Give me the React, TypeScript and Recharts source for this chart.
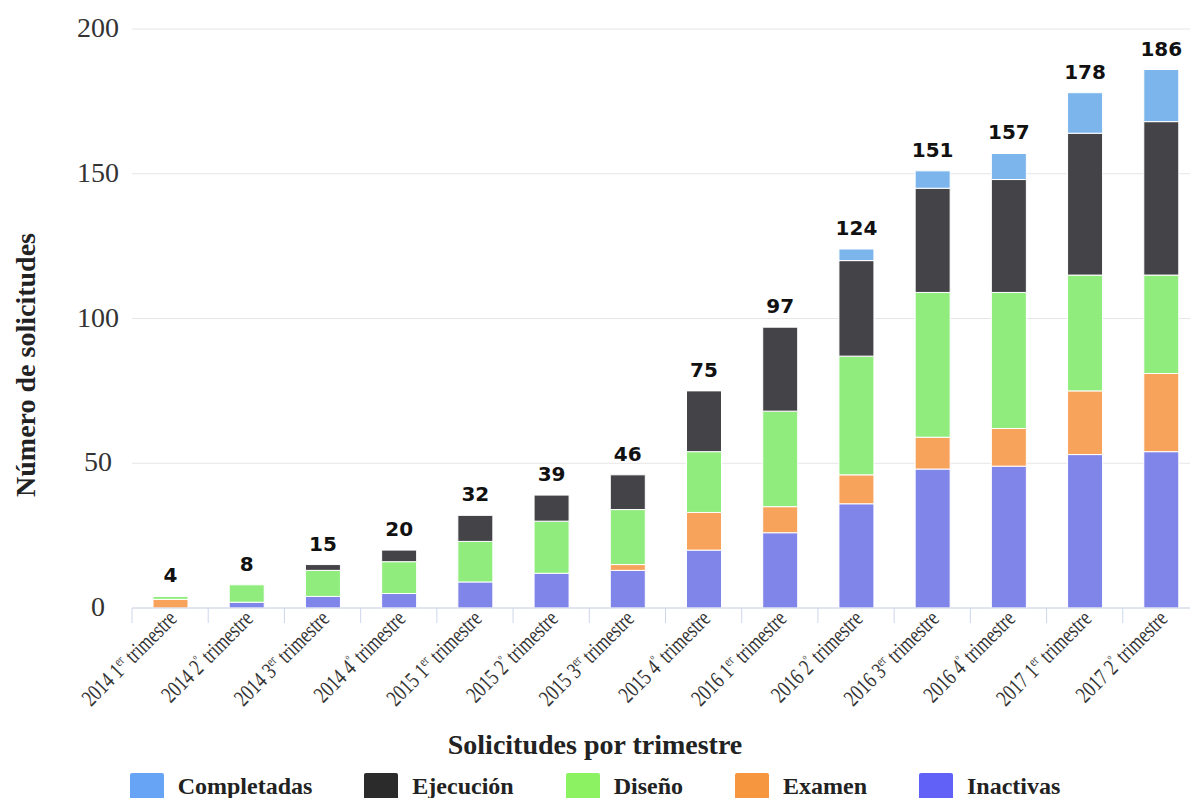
import { BarChart, Bar, XAxis, YAxis, CartesianGrid, Legend, LabelList } from "recharts";

const categories = [
  "2014 1er trimestre",
  "2014 2º trimestre",
  "2014 3er trimestre",
  "2014 4º trimestre",
  "2015 1er trimestre",
  "2015 2º trimestre",
  "2015 3er trimestre",
  "2015 4º trimestre",
  "2016 1er trimestre",
  "2016 2º trimestre",
  "2016 3er trimestre",
  "2016 4º trimestre",
  "2017 1er trimestre",
  "2017 2º trimestre",
];

const inactivas = [0, 2, 4, 5, 9, 12, 13, 20, 26, 36, 48, 49, 53, 54];
const examen = [3, 0, 0, 0, 0, 0, 2, 13, 9, 10, 11, 13, 22, 27];
const diseno = [1, 6, 9, 11, 14, 18, 19, 21, 33, 41, 50, 47, 40, 34];
const ejecucion = [0, 0, 2, 4, 9, 9, 12, 21, 29, 33, 36, 39, 49, 53];
const completadas = [0, 0, 0, 0, 0, 0, 0, 0, 0, 4, 6, 9, 14, 18];
const totals = [4, 8, 15, 20, 32, 39, 46, 75, 97, 124, 151, 157, 178, 186];

const yTicks = [0, 50, 100, 150, 200];

// legend order (top of stack first)
const legendItems = [
  { name: "Completadas", color: "#68a4f6" },
  { name: "Ejecución", color: "#2b2b2b" },
  { name: "Diseño", color: "#8df262" },
  { name: "Examen", color: "#f6963f" },
  { name: "Inactivas", color: "#6161f7" },
];

const data = categories.map((c, i) => ({
  name: c,
  Inactivas: inactivas[i],
  Examen: examen[i],
  Diseño: diseno[i],
  Ejecución: ejecucion[i],
  Completadas: completadas[i],
  total: totals[i],
}));

const CHART_W = 1210;
const CHART_H = 798;
const Y_AXIS_W = 132;
const MARGIN_R = 11;
const BAND = (CHART_W - Y_AXIS_W - MARGIN_R) / categories.length;

const serif = "'Liberation Serif', 'Times New Roman', serif";

function XTick({ x, y, payload }: any) {
  const m = String(payload.value).match(/^(\d{4}) (\d)(er|º) (.*)$/);
  const left = x - BAND / 2;
  return (
    <g>
      <line x1={left} x2={left} y1={y} y2={y + 15} stroke="#ccd6eb" />
      <text
        transform={`translate(${x + 8},${y + 12}) rotate(-45) scale(0.8,1.05)`}
        textAnchor="end"
        fontFamily={serif}
        fontSize={22}
        fill="#333"
      >
        {m ? (
          <>
            {m[1]} {m[2]}
            <tspan dy={-8} fontSize={13}>{m[3]}</tspan>
            <tspan dy={8}> {m[4]}</tspan>
          </>
        ) : (
          payload.value
        )}
      </text>
    </g>
  );
}

function YTick({ y, payload }: any) {
  return (
    <text x={98} y={y + 8} textAnchor="middle" fontFamily={serif} fontSize={28} fill="#333">
      {payload.value}
    </text>
  );
}

function StackLabel({ x, y, width, value }: any) {
  return (
    <text
      x={x + width / 2}
      y={y - 14}
      textAnchor="middle"
      fontFamily="'DejaVu Sans', sans-serif"
      fontWeight="bold"
      fontSize={20}
      fill="#111"
    >
      {value}
    </text>
  );
}

function YTitle() {
  return (
    <text
      transform="translate(35,365) rotate(-90)"
      textAnchor="middle"
      fontFamily={serif}
      fontWeight="bold"
      fontSize={28}
      fill="#222"
    >
      Número de solicitudes
    </text>
  );
}

function LegendContent() {
  return (
    <div style={{ width: 1190, height: 80, fontFamily: serif, fontWeight: "bold", color: "#222" }}>
      <div style={{ textAlign: "center", fontSize: 28, lineHeight: "31px", paddingTop: 11, height: 29 }}>
        Solicitudes por trimestre
      </div>
      <div style={{ display: "flex", justifyContent: "center", gap: 52, marginTop: 15 }}>
        {legendItems.map(it => (
          <div key={it.name} style={{ display: "flex", alignItems: "flex-start", fontSize: 24, lineHeight: "26px" }}>
            <span style={{ display: "inline-block", width: 34, height: 30, marginTop: 0, background: it.color, borderRadius: 2, marginRight: 14 }} />
            <span>{it.name}</span>
          </div>
        ))}
      </div>
    </div>
  );
}

export default function App() {
  return (
    <div style={{ position: "absolute", left: 0, top: 0, width: 1190, height: 798, overflow: "hidden", background: "#fff" }}>
      <BarChart width={CHART_W} height={CHART_H} data={data} margin={{ top: 29, right: MARGIN_R, left: 0, bottom: 0 }} barSize={35}>
        <CartesianGrid vertical={false} stroke="#e6e6e6" />
        <XAxis
          dataKey="name"
          interval={0}
          height={110}
          tickSize={0}
          tickMargin={0}
          tickLine={false}
          axisLine={{ stroke: "#ccd6eb" }}
          tick={<XTick />}
        />
        <XAxis xAxisId="tot" dataKey="name" hide />
        <YAxis
          domain={[0, 200]}
          ticks={yTicks}
          width={Y_AXIS_W}
          axisLine={false}
          tickLine={false}
          tick={<YTick />}
          label={<YTitle />}
        />
        <Legend verticalAlign="bottom" wrapperStyle={{ left: 0, bottom: 0, width: 1190 }} content={<LegendContent />} />
        <Bar dataKey="Inactivas" stackId="a" fill="#8085e9" stroke="#fff" strokeWidth={1} isAnimationActive={false} />
        <Bar dataKey="Examen" stackId="a" fill="#f7a35c" stroke="#fff" strokeWidth={1} isAnimationActive={false} />
        <Bar dataKey="Diseño" stackId="a" fill="#90ed7d" stroke="#fff" strokeWidth={1} isAnimationActive={false} />
        <Bar dataKey="Ejecución" stackId="a" fill="#434348" stroke="#fff" strokeWidth={1} isAnimationActive={false} />
        <Bar dataKey="Completadas" stackId="a" fill="#7cb5ec" stroke="#fff" strokeWidth={1} isAnimationActive={false} />
        <Bar dataKey="total" xAxisId="tot" fill="transparent" legendType="none" isAnimationActive={false}>
          <LabelList dataKey="total" content={<StackLabel />} />
        </Bar>
      </BarChart>
    </div>
  );
}
